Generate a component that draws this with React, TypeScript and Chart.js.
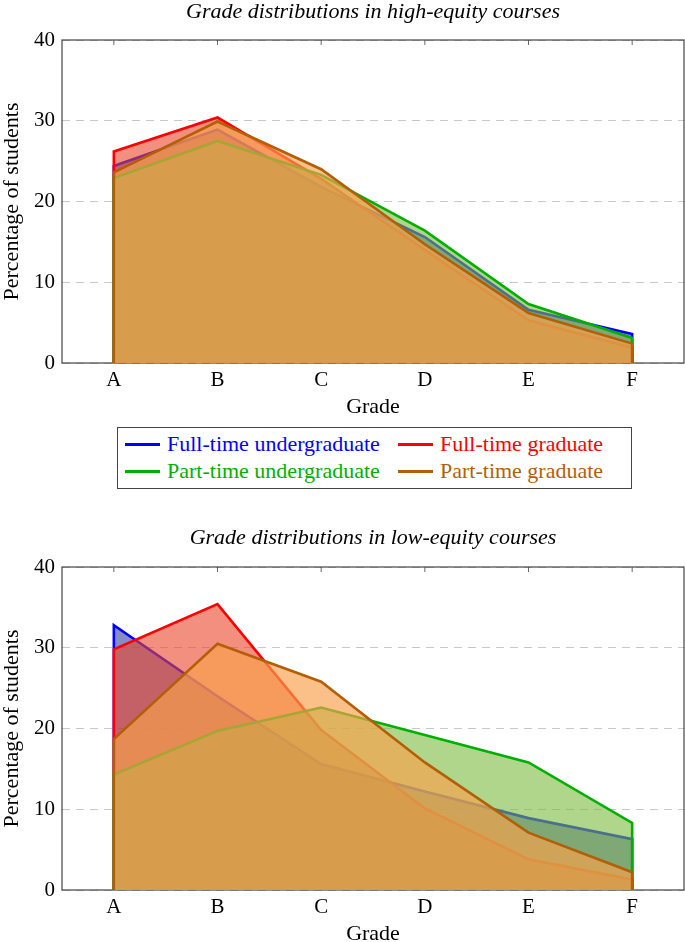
import { useEffect, useRef } from "react"
import { Chart, registerables } from "chart.js"

Chart.register(...registerables)

document.body.style.margin = "0"

const grades = ["A", "B", "C", "D", "E", "F"]
const seriesNames = ["Full-time undergraduate", "Full-time graduate", "Part-time undergraduate", "Part-time graduate"]
const lineColors = ["#0000ff", "#ff0000", "#00b000", "#b45f06"]
const fillColors = ["rgba(57, 63, 157, 0.6)", "rgba(235, 69, 40, 0.6)", "rgba(123, 187, 63, 0.6)", "rgba(248, 161, 76, 0.67)"]
const yTicks = [0, 10, 20, 30, 40]

// high-equity courses (%)
const highFullTimeUndergrad = [24.4, 28.9, 21.8, 15.6, 6.6, 3.6]
const highFullTimeGrad = [26.2, 30.4, 22.8, 14.0, 5.3, 1.9]
const highPartTimeUndergrad = [22.9, 27.5, 23.3, 16.4, 7.3, 3.1]
const highPartTimeGrad = [23.6, 29.9, 24.0, 14.7, 6.2, 2.4]

// low-equity courses (%)
const lowFullTimeUndergrad = [32.8, 24.0, 15.6, 12.2, 8.9, 6.3]
const lowFullTimeGrad = [29.8, 35.4, 19.8, 10.1, 3.8, 1.3]
const lowPartTimeUndergrad = [14.3, 19.7, 22.6, 19.2, 15.8, 8.3]
const lowPartTimeGrad = [18.7, 30.5, 25.8, 15.8, 7.1, 2.2]

const serif = '"Liberation Serif", "DejaVu Serif", serif'

// closed outline: drop to zero at the first and last grade
function outline(values: number[]) {
  return [{ x: 0, y: 0 }, ...values.map((v, i) => ({ x: i, y: v })), { x: values.length - 1, y: 0 }]
}

const framePlugin = {
  id: "frame",
  beforeDatasetsDraw(chart: any) {
    const { ctx, chartArea: a, scales } = chart
    ctx.save()
    ctx.strokeStyle = "#444"
    ctx.lineWidth = 1.2
    ctx.strokeRect(a.left, a.top, a.right - a.left, a.bottom - a.top)
    ctx.lineWidth = 0.8
    grades.forEach((_, i) => {
      const x = scales.x.getPixelForValue(i)
      ctx.beginPath()
      ctx.moveTo(x, a.top)
      ctx.lineTo(x, a.top + 5)
      ctx.stroke()
    })
    ctx.restore()
  },
}

interface GradeChartProps {
  series: number[][]
  height: number
  plotTop: number
  axisHeight: number
  gradeBottom: number
}

function GradeChart({ series, height, plotTop, axisHeight, gradeBottom }: GradeChartProps) {
  const chartRef = useRef<HTMLCanvasElement>(null)
  const chartInstance = useRef<Chart | null>(null)

  useEffect(() => {
    if (!chartRef.current) return
    if (chartInstance.current) chartInstance.current.destroy()
    const ctx = chartRef.current.getContext("2d")
    if (!ctx) return

    const tickFont = { family: serif, size: 21, lineHeight: 1.2 }
    const titleFont = { family: serif, size: 22, lineHeight: 1.1 }

    chartInstance.current = new Chart(ctx, {
      type: "line",
      data: {
        datasets: series.map((values, i) => ({
          label: seriesNames[i],
          data: outline(values),
          borderColor: lineColors[i],
          backgroundColor: fillColors[i],
          borderWidth: 2.6,
          borderJoinStyle: "miter" as const,
          fill: "origin",
          tension: 0,
          pointRadius: 0,
          order: series.length - i,
        })),
      },
      options: {
        animation: false,
        responsive: false,
        layout: { padding: { left: 0, right: 1, top: plotTop, bottom: 0 } },
        plugins: {
          legend: { display: false },
          tooltip: { enabled: false },
        },
        scales: {
          x: {
            type: "linear",
            min: -0.5,
            max: grades.length - 0.5,
            afterBuildTicks: (scale: any) => {
              scale.ticks = grades.map((_, i) => ({ value: i }))
            },
            afterFit: (scale: any) => {
              scale.height = axisHeight
            },
            ticks: {
              callback: (v: any) => grades[v] ?? "",
              color: "#000",
              font: tickFont,
              padding: -3,
              autoSkip: false,
              maxRotation: 0,
            },
            grid: { display: false },
            border: { display: false },
            title: { display: true, text: "Grade", color: "#000", font: titleFont, padding: { top: 0, bottom: gradeBottom } },
          },
          y: {
            min: 0,
            max: 40,
            afterBuildTicks: (scale: any) => {
              scale.ticks = yTicks.map((value) => ({ value }))
            },
            afterFit: (scale: any) => {
              scale.width = 62
            },
            ticks: { color: "#000", font: tickFont, padding: 7 },
            grid: { color: "#c8c8c8", lineWidth: 1, drawTicks: false },
            border: { display: false, dash: [8, 6] },
            title: { display: true, text: "Percentage of students", color: "#000", font: titleFont, padding: { top: 0, bottom: 0 } },
          },
        },
      },
      plugins: [framePlugin],
    } as any)

    return () => {
      if (chartInstance.current) {
        chartInstance.current.destroy()
        chartInstance.current = null
      }
    }
  }, [series, height, plotTop, axisHeight, gradeBottom])

  return <canvas ref={chartRef} width={685} height={height} style={{ display: "block" }} />
}

function Title({ text, centerY }: { text: string; centerY: number }) {
  return (
    <div
      style={{
        position: "absolute",
        left: 62,
        width: 622,
        top: centerY - 13,
        height: 26,
        lineHeight: "26px",
        textAlign: "center",
        fontFamily: serif,
        fontStyle: "italic",
        fontSize: 22,
        whiteSpace: "nowrap",
      }}
    >
      {text}
    </div>
  )
}

function Legend() {
  return (
    <div
      style={{
        position: "absolute",
        left: 117,
        top: 427,
        width: 513,
        height: 60,
        border: "1px solid #444",
        fontFamily: serif,
        fontSize: 22,
        background: "#fff",
      }}
    >
      {seriesNames.map((name, i) => (
        <div
          key={name}
          style={{
            position: "absolute",
            left: i % 2 ? 280 : 7,
            top: i < 2 ? 3 : 30,
            height: 26,
            display: "flex",
            alignItems: "center",
            whiteSpace: "nowrap",
            color: lineColors[i],
          }}
        >
          <span style={{ display: "inline-block", width: 35, height: 3, background: lineColors[i], marginRight: 7 }} />
          {name}
        </div>
      ))}
    </div>
  )
}

const highSeries = [highFullTimeUndergrad, highFullTimeGrad, highPartTimeUndergrad, highPartTimeGrad]
const lowSeries = [lowFullTimeUndergrad, lowFullTimeGrad, lowPartTimeUndergrad, lowPartTimeGrad]

export default function App() {
  return (
    <div style={{ position: "relative", width: 685, height: 942, overflow: "hidden", background: "#fff" }}>
      <div style={{ position: "absolute", left: 0, top: 0 }}>
        <GradeChart series={highSeries} height={420} plotTop={40} axisHeight={57} gradeBottom={1} />
      </div>
      <Title text="Grade distributions in high-equity courses" centerY={11} />
      <Legend />
      <div style={{ position: "absolute", left: 0, top: 500 }}>
        <GradeChart series={lowSeries} height={446} plotTop={67} axisHeight={56} gradeBottom={0} />
      </div>
      <Title text="Grade distributions in low-equity courses" centerY={537} />
    </div>
  )
}
